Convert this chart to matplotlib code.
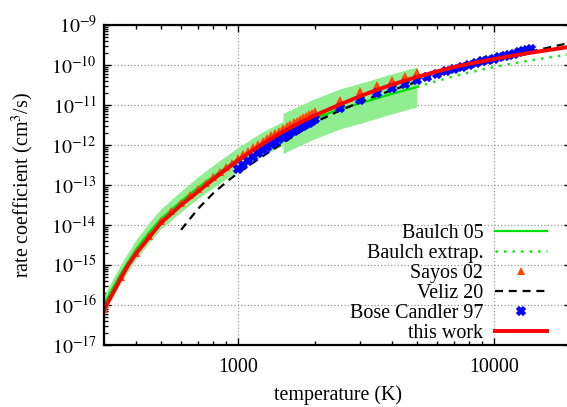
import numpy as np
import matplotlib
matplotlib.use('Agg')
import matplotlib.pyplot as plt
from matplotlib.ticker import FixedLocator, LogLocator, NullFormatter

plt.rcParams['font.family'] = ['Liberation Serif', 'DejaVu Serif']
plt.rcParams['mathtext.fontset'] = 'stix'

# ---- data (temperature in K, log10 of k in cm^3/s) ----
baulch_T = [300, 350, 400, 450, 500, 600, 700, 800, 1000, 1250, 1500,
            2000, 2500, 3000, 3500, 4000, 4500, 5000]
baulch_logk = [-15.98, -15.20, -14.61, -14.19, -13.85, -13.41, -13.06, -12.79,
               -12.35, -11.97, -11.71, -11.34, -11.10, -10.96, -10.83, -10.72,
               -10.63, -10.55]
# uncertainty (log10) : narrow part 300-1500 K, wide part 1500-5000 K
baulch_unc_low = [0.22, 0.23, 0.24, 0.25, 0.25, 0.26, 0.27, 0.28, 0.29, 0.30, 0.30]
baulch_unc_high = 0.5

extrap_T = [5000, 6000, 7000, 8000, 10000, 12000, 15000, 20000]
extrap_logk = [-10.55, -10.40, -10.28, -10.19, -10.05, -9.955, -9.85, -9.725]

sayos_T = list(range(300, 2001, 50)) + [2500, 3000, 3500, 4000, 4500, 5000]
sayos_logk = [-16.10, -15.29, -14.69, -14.27, -13.91, -13.66, -13.46, -13.26,
              -13.11, -12.95, -12.81, -12.68, -12.56, -12.44, -12.33, -12.23,
              -12.14, -12.06, -11.98, -11.90, -11.82, -11.76, -11.70, -11.64,
              -11.58, -11.53, -11.48, -11.43, -11.39, -11.35, -11.31, -11.27,
              -11.23, -11.20, -11.16,
              -10.87, -10.66, -10.50, -10.37, -10.27, -10.18]

veliz_T = [600, 700, 800, 900, 1000, 1250, 1500, 2000, 2500, 3000, 3500, 4000,
           5000, 6000, 7000, 8000, 10000, 12000, 14000, 17000, 20000]
veliz_logk = [-14.12, -13.59, -13.21, -12.93, -12.70, -12.28, -11.95, -11.43,
              -11.14, -10.93, -10.76, -10.63, -10.42, -10.26, -10.14, -10.04,
              -9.88, -9.76, -9.66, -9.54, -9.44]

bose_T = list(range(1000, 2001, 50)) + list(range(2500, 14001, 500))
bose_logk = [-12.60, -12.49, -12.39, -12.29, -12.20, -12.12, -12.05, -11.98,
             -11.92, -11.86, -11.80, -11.75, -11.70, -11.65, -11.60, -11.56,
             -11.52, -11.48, -11.44, -11.40, -11.36,
             -11.08, -10.87, -10.71, -10.58, -10.47, -10.37, -10.29, -10.22,
             -10.15, -10.09, -10.04, -9.99, -9.95, -9.91, -9.87, -9.84,
             -9.806, -9.774, -9.743, -9.713, -9.685, -9.658, -9.632, -9.607]

work_T = [300, 350, 373, 400, 450, 493, 500, 600, 700, 755, 800, 900, 1000,
          1100, 1250, 1500, 1750, 2000, 2500, 3000, 3500, 4000, 4500, 5000,
          6000, 7000, 8000, 10000, 12000, 14000, 17000, 20000]
work_logk = [-16.12, -15.32, -15.00, -14.72, -14.31, -14.00, -13.95, -13.50,
             -13.16, -12.99, -12.86, -12.61, -12.39, -12.21, -11.97, -11.67,
             -11.44, -11.26, -10.99, -10.78, -10.62, -10.49, -10.39, -10.30,
             -10.16, -10.05, -9.97, -9.85, -9.76, -9.69, -9.61, -9.54]

xticks = [1000, 10000]
xtick_labels = ['1000', '10000']
yexp = list(range(-17, -8))


def k(v):
    return 10.0 ** np.asarray(v)


fig = plt.figure(figsize=(5.67, 4.07), dpi=100)
ax = fig.add_axes([104 / 567, 62 / 407, 467 / 567, 320 / 407])

band = '#90ee90'
bT = np.array(baulch_T)
bk = np.array(baulch_logk)
low = bT <= 1500
high = bT >= 1500
ul = np.array(baulch_unc_low)
ax.fill_between(bT[low], k(bk[low] - ul), k(bk[low] + ul), color=band, lw=0)
ax.fill_between(bT[high], k(bk[high] - baulch_unc_high), k(bk[high] + baulch_unc_high),
                color=band, lw=0)

ax.plot(baulch_T, k(baulch_logk), '-', color='#00dd00', lw=1.6, label='Baulch 05')
ax.plot(extrap_T, k(extrap_logk), color='#11ee11', lw=1.8, dashes=(1.0, 2.4),
        label='Baulch extrap.')
ax.plot(sayos_T, k(sayos_logk), '^', color='#ff4500', ms=6, mew=0, label='Sayos 02')
ax.plot(veliz_T, k(veliz_logk), color='black', lw=1.6, dashes=(3.6, 2.6), label='Veliz 20')
ax.plot(bose_T, k(bose_logk), 'X', color='#0000ff', ms=5.5, mew=1.2, label='Bose Candler 97')
ax.plot(work_T, k(work_logk), '-', color='#ff0000', lw=2.8, label='this work')

ax.set_xscale('log')
ax.set_yscale('log')
ax.set_xlim(300, 20000)
ax.set_ylim(1e-17, 1e-9)

ax.xaxis.set_major_locator(FixedLocator(xticks))
ax.set_xticklabels(xtick_labels)
ax.xaxis.set_minor_locator(LogLocator(base=10, subs=np.arange(2, 10)))
ax.xaxis.set_minor_formatter(NullFormatter())
ax.yaxis.set_major_locator(FixedLocator([10.0 ** e for e in yexp]))
ax.set_yticklabels([r'$10^{%d}$' % e for e in yexp])
ax.yaxis.set_minor_locator(LogLocator(base=10, subs=np.arange(2, 10), numticks=20))
ax.yaxis.set_minor_formatter(NullFormatter())

ax.tick_params(which='both', direction='in', top=True, right=True, labelsize=14.4)
ax.tick_params(which='major', length=5, width=1)
ax.tick_params(which='minor', length=3, width=1)
ax.tick_params(axis='x', pad=9)
ax.tick_params(axis='y', pad=5)
for s in ax.spines.values():
    s.set_linewidth(1.6)

ax.grid(True, which='major', color='#888888', linestyle=(0, (1, 2)), lw=0.8)
ax.set_axisbelow(True)

ax.set_xlabel('temperature (K)', fontsize=14.4, labelpad=6)
ax.set_ylabel('rate coefficient (cm$^3$/s)', fontsize=14.4, labelpad=11)

ax.legend(loc='lower right', bbox_to_anchor=(0.949, 0.005), frameon=False,
          markerfirst=False, fontsize=14.4, handlelength=2.6, handletextpad=0.6,
          labelspacing=0.05, borderpad=0, borderaxespad=0, numpoints=1)

fig.savefig('out.png', dpi=100)
